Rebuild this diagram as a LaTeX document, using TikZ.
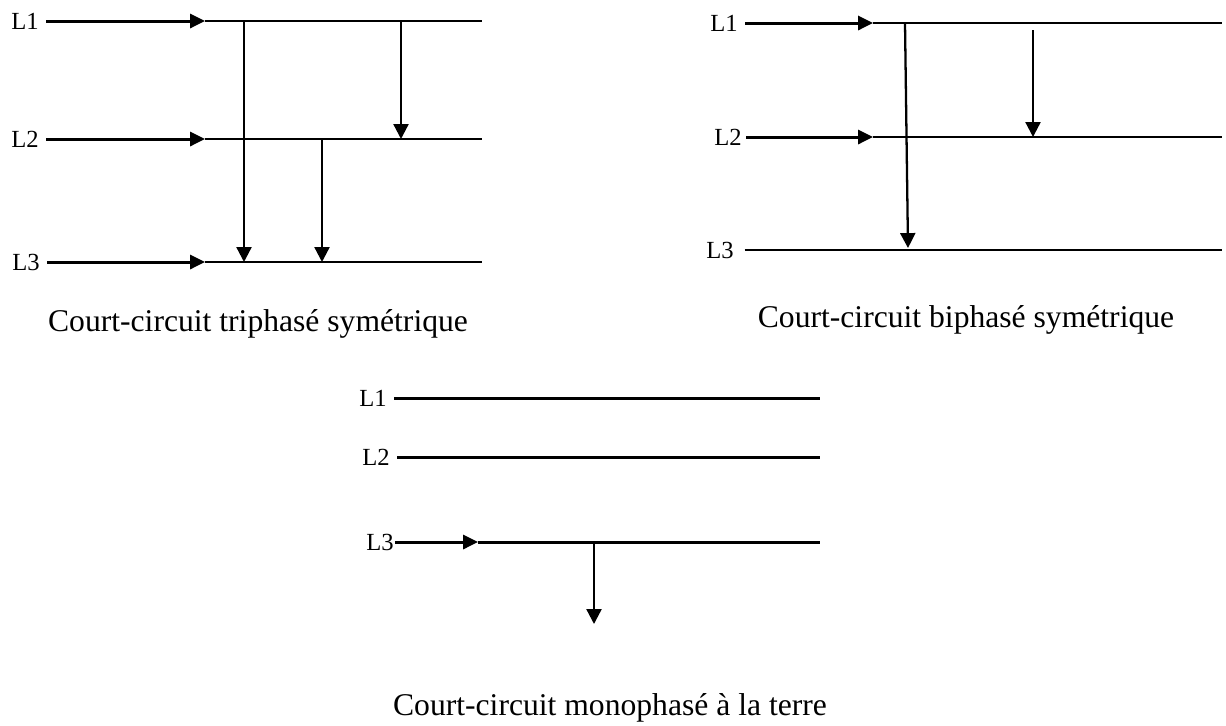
\documentclass[tikz,border=0pt]{standalone}
\usepackage{fontspec}
\setmainfont{Liberation Serif}
\usetikzlibrary{arrows.meta,positioning}

\begin{document}
\begin{tikzpicture}[
    x=0.02cm, y=-0.02cm,
    phase/.style={inner sep=4pt, font=\fontsize{14}{16}\selectfont},
    caption/.style={anchor=base, font=\fontsize{18}{21}\selectfont},
    feed/.style={-{Triangle[length=8.5pt,width=8pt]}, line width=1.7pt},
    bus/.style={line width=0.9pt},
    fault/.style={-{Triangle[length=8.5pt,width=8.5pt]}, line width=1.3pt}
]
\useasboundingbox (0,0) rectangle (1226,725);

% triphase
\node[phase] (a1) at (25,21) {L1};
\node[phase] (a2) at (25,139) {L2};
\node[phase] (a3) at (26,262) {L3};
\coordinate (a1s) at (205,21);  \coordinate (a1e) at (482,21);
\coordinate (a2s) at (205,139); \coordinate (a2e) at (482,139);
\coordinate (a3s) at (205,262); \coordinate (a3e) at (482,262);
\draw[feed] (a1) -- (a1s);
\draw[feed] (a2) -- (a2s);
\draw[feed] (a3) -- (a3s);
\draw[bus] (a1s) -- (a1e);
\draw[bus] (a2s) -- (a2e);
\draw[bus] (a3s) -- (a3e);
\coordinate (af1) at (244,21);  \coordinate (af1') at (244,262);
\coordinate (af2) at (322,139); \coordinate (af2') at (322,262);
\coordinate (af3) at (401,21);  \coordinate (af3') at (401,139);
\draw[fault] (af1) -- (af1');
\draw[fault] (af2) -- (af2');
\draw[fault] (af3) -- (af3');
\node[caption] (acap) at (258,331) {Court-circuit triphasé symétrique};

% biphase
\node[phase] (b1) at (724,23) {L1};
\node[phase, inner sep=2.5pt] (b2) at (728,137) {L2};
\node[phase, inner sep=6pt] (b3) at (720,250) {L3};
\coordinate (b1s) at (873,23);  \coordinate (b1e) at (1222,23);
\coordinate (b2s) at (873,137); \coordinate (b2e) at (1222,137);
\coordinate (b3e) at (1222,250);
\draw[feed] (b1) -- (b1s);
\draw[feed] (b2) -- (b2s);
\draw[bus] (b1s) -- (b1e);
\draw[bus] (b2s) -- (b2e);
\draw[bus] (b3) -- (b3e);
\coordinate (bf1) at (905,23);  \coordinate (bf1') at (908,248);
\coordinate (bf2) at (1033,30); \coordinate (bf2') at (1033,137);
\draw[fault] (bf1) -- (bf1');
\draw[fault] (bf2) -- (bf2');
\node[caption] (bcap) at (966,327) {Court-circuit biphasé symétrique};

% monophase
\node[phase] (c1) at (373,398) {L1};
\node[phase] (c2) at (376,457) {L2};
\node[phase, inner sep=0.5pt] (c3) at (380,542) {L3};
\coordinate (c1e) at (820,398);
\coordinate (c2e) at (820,457);
\coordinate (c3s) at (478,542); \coordinate (c3e) at (820,542);
\draw[bus, line width=1.7pt] (c1) -- (c1e);
\draw[bus, line width=1.7pt] (c2) -- (c2e);
\draw[feed] (c3) -- (c3s);
\draw[bus, line width=1.7pt] (c3s) -- (c3e);
\coordinate (cf) at (594,542); \coordinate (cf') at (594,624);
\draw[fault] (cf) -- (cf');
\node[caption] (ccap) at (610,715) {Court-circuit monophasé à la terre};
\end{tikzpicture}
\end{document}
